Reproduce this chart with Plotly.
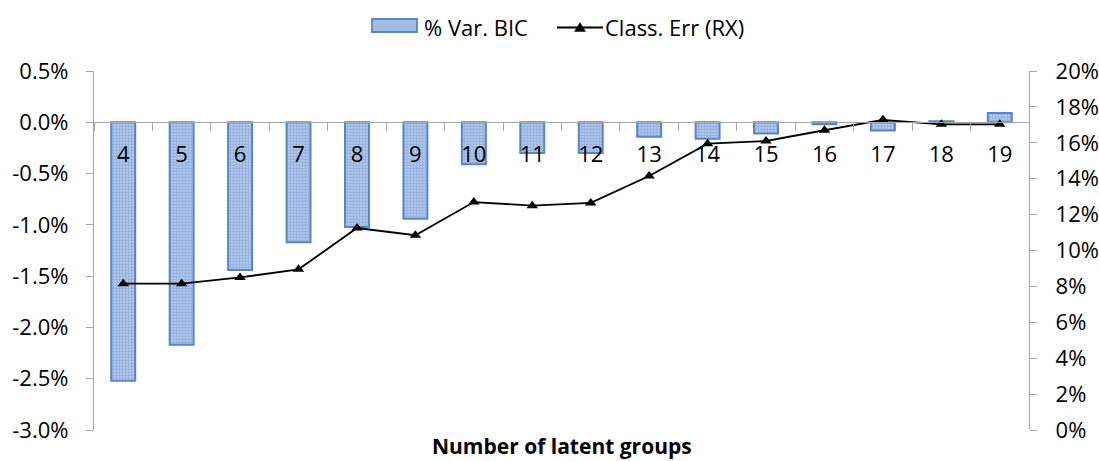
import plotly.graph_objects as go

# Number of latent groups on the category axis
groups = ["4", "5", "6", "7", "8", "9", "10", "11", "12", "13", "14", "15", "16", "17", "18", "19"]

# Percentage variation of BIC (left axis, in %)
var_bic = [-2.52, -2.17, -1.44, -1.17, -1.02, -0.94, -0.41, -0.30, -0.30, -0.14,
           -0.16, -0.11, -0.02, -0.08, 0.01, 0.09]

# Classification error (right axis, in %)
class_err = [8.15, 8.15, 8.5, 8.95, 11.25, 10.85, 12.7, 12.5, 12.65, 14.15,
             15.95, 16.1, 16.7, 17.28, 17.03, 17.03]

# Left axis tick values (%)
left_ticks = [0.5, 0.0, -0.5, -1.0, -1.5, -2.0, -2.5, -3.0]
# Right axis tick values (%)
right_ticks = [0, 2, 4, 6, 8, 10, 12, 14, 16, 18, 20]

series_names = ["% Var. BIC", "Class. Err (RX)"]

FONT = "Open Sans"
AXIS_GREY = "#A6A6A6"
BAR_EDGE = "#5586C8"
BAR_BG = "#C4D5EF"
BAR_FG = "#6690CF"

W, H = 1099, 461
ML, MR, MT, MB = 94, 70, 71, 31
PW, PH = W - ML - MR, H - MT - MB


def px_x(px):
    """Horizontal pixel position -> paper fraction."""
    return (px - ML) / PW


def px_y(py):
    """Vertical pixel position (from top) -> paper fraction."""
    return (H - MB - py) / PH


fig = go.Figure()

fig.add_trace(go.Bar(
    x=groups,
    y=[v / 100 for v in var_bic],
    name=series_names[0],
    width=0.41,
    marker=dict(
        color=BAR_BG,
        line=dict(color=BAR_EDGE, width=2),
        pattern=dict(shape=".", fgcolor=BAR_FG, bgcolor=BAR_BG,
                     size=3, solidity=0.7),
    ),
    yaxis="y",
    showlegend=False,
))

fig.add_trace(go.Scatter(
    x=groups,
    y=[v / 100 for v in class_err],
    name=series_names[1],
    mode="lines+markers",
    line=dict(color="black", width=1.8),
    marker=dict(symbol="triangle-up", size=10, color="black"),
    yaxis="y2",
    showlegend=False,
))

# Legend row above the plot: patterned-bar swatch and line-with-triangle key
legend_y = 26.5
shapes = [
    dict(type="rect", xref="paper", yref="paper",
         x0=px_x(372), x1=px_x(417), y0=px_y(32), y1=px_y(19),
         fillcolor="#A3BCE4", line=dict(color=BAR_EDGE, width=1.8)),
    dict(type="line", xref="paper", yref="paper",
         x0=px_x(557), x1=px_x(603), y0=px_y(legend_y + 1), y1=px_y(legend_y + 1),
         line=dict(color="black", width=1.8)),
    dict(type="path", xref="paper", yref="paper",
         path=(f"M {px_x(574.5)} {px_y(legend_y + 5)} "
               f"L {px_x(585.5)} {px_y(legend_y + 5)} "
               f"L {px_x(580)} {px_y(legend_y - 4)} Z"),
         fillcolor="black", line=dict(color="black", width=0.5)),
]

annotations = [
    dict(text=series_names[0], xref="paper", yref="paper",
         x=px_x(422), y=px_y(legend_y), xanchor="left", yanchor="middle",
         showarrow=False, font=dict(family=FONT, size=22, color="black")),
    dict(text=series_names[1], xref="paper", yref="paper",
         x=px_x(603), y=px_y(legend_y), xanchor="left", yanchor="middle",
         showarrow=False, font=dict(family=FONT, size=22, color="black")),
    dict(text="<b>Number of latent groups</b>", xref="paper", yref="paper",
         x=0.5, y=px_y(446), xanchor="center", yanchor="middle",
         showarrow=False, font=dict(family=FONT, size=21, color="black")),
]

fig.update_layout(
    width=W,
    height=H,
    margin=dict(l=ML, r=MR, t=MT, b=MB, autoexpand=False),
    paper_bgcolor="white",
    plot_bgcolor="white",
    font=dict(family=FONT, size=22, color="black"),
    showlegend=False,
    shapes=shapes,
    annotations=annotations,
    xaxis=dict(
        type="category",
        range=[-0.5, len(groups) - 0.5],
        anchor="free",
        position=3 / 3.5,
        showline=True,
        linecolor=AXIS_GREY,
        linewidth=1.3,
        ticks="outside",
        ticklen=8,
        tickcolor=AXIS_GREY,
        tickson="boundaries",
        ticklabelstandoff=12,
        tickfont=dict(family=FONT, size=22, color="black"),
        showgrid=False,
        zeroline=False,
    ),
    yaxis=dict(
        range=[-0.03, 0.005],
        tickvals=[v / 100 for v in left_ticks],
        ticktext=[f"{v:.1f}%" for v in left_ticks],
        showline=True,
        linecolor=AXIS_GREY,
        linewidth=1.3,
        ticks="outside",
        ticklen=7,
        tickcolor=AXIS_GREY,
        ticklabelstandoff=13,
        showgrid=False,
        zeroline=False,
        tickfont=dict(family=FONT, size=22, color="black"),
    ),
    yaxis2=dict(
        range=[0, 0.20],
        tickvals=[v / 100 for v in right_ticks],
        ticktext=[f"{v}%" for v in right_ticks],
        overlaying="y",
        side="right",
        showline=True,
        linecolor=AXIS_GREY,
        linewidth=1.3,
        ticks="outside",
        ticklen=7,
        tickcolor=AXIS_GREY,
        ticklabelstandoff=14,
        showgrid=False,
        zeroline=False,
        tickfont=dict(family=FONT, size=22, color="black"),
    ),
)

fig.write_html("out.html")
